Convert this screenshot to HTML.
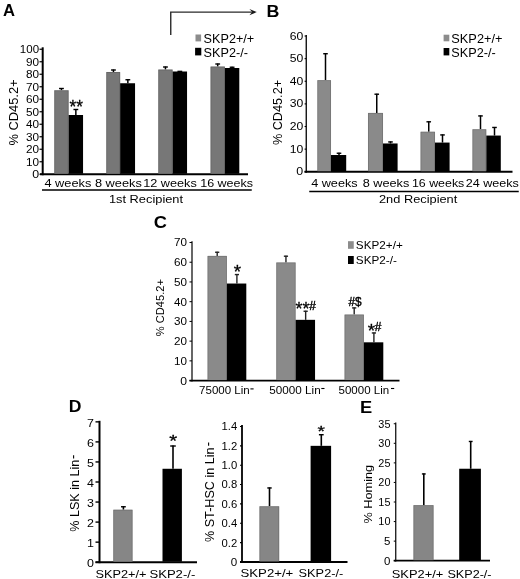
<!DOCTYPE html>
<html><head><meta charset="utf-8"><title>Figure</title>
<style>
html,body{margin:0;padding:0;background:#fff;}
body{width:520px;height:579px;overflow:hidden;font-family:"Liberation Sans",sans-serif;}
svg{display:block;will-change:transform;}
svg text{font-family:"Liberation Sans",sans-serif;fill:#000;}
</style></head><body>
<svg width="520" height="579" viewBox="0 0 520 579">
<rect width="520" height="579" fill="#fff"/>
<text x="3.0" y="15.9" font-size="16" font-weight="bold" textLength="12.0" lengthAdjust="spacingAndGlyphs">A</text>
<line x1="42.7" y1="47.3" x2="42.7" y2="175.25" stroke="#000" stroke-width="2.0"/>
<line x1="40" y1="174.25" x2="248" y2="174.25" stroke="#000" stroke-width="2.0"/>
<line x1="39.5" y1="174.25" x2="42.7" y2="174.25" stroke="#000" stroke-width="1.2"/>
<text x="32.15" y="178.35" font-size="11.3" textLength="6.9" lengthAdjust="spacingAndGlyphs">0</text>
<line x1="39.5" y1="161.75" x2="42.7" y2="161.75" stroke="#000" stroke-width="1.2"/>
<text x="25.95" y="165.85" font-size="11.3" textLength="13.1" lengthAdjust="spacingAndGlyphs">10</text>
<line x1="39.5" y1="149.25" x2="42.7" y2="149.25" stroke="#000" stroke-width="1.2"/>
<text x="25.95" y="153.35" font-size="11.3" textLength="13.1" lengthAdjust="spacingAndGlyphs">20</text>
<line x1="39.5" y1="136.75" x2="42.7" y2="136.75" stroke="#000" stroke-width="1.2"/>
<text x="25.95" y="140.85" font-size="11.3" textLength="13.1" lengthAdjust="spacingAndGlyphs">30</text>
<line x1="39.5" y1="124.25" x2="42.7" y2="124.25" stroke="#000" stroke-width="1.2"/>
<text x="25.95" y="128.35" font-size="11.3" textLength="13.1" lengthAdjust="spacingAndGlyphs">40</text>
<line x1="39.5" y1="111.75" x2="42.7" y2="111.75" stroke="#000" stroke-width="1.2"/>
<text x="25.95" y="115.85" font-size="11.3" textLength="13.1" lengthAdjust="spacingAndGlyphs">50</text>
<line x1="39.5" y1="99.25" x2="42.7" y2="99.25" stroke="#000" stroke-width="1.2"/>
<text x="25.95" y="103.35" font-size="11.3" textLength="13.1" lengthAdjust="spacingAndGlyphs">60</text>
<line x1="39.5" y1="86.75" x2="42.7" y2="86.75" stroke="#000" stroke-width="1.2"/>
<text x="25.95" y="90.85" font-size="11.3" textLength="13.1" lengthAdjust="spacingAndGlyphs">70</text>
<line x1="39.5" y1="74.25" x2="42.7" y2="74.25" stroke="#000" stroke-width="1.2"/>
<text x="25.95" y="78.35" font-size="11.3" textLength="13.1" lengthAdjust="spacingAndGlyphs">80</text>
<line x1="39.5" y1="61.75" x2="42.7" y2="61.75" stroke="#000" stroke-width="1.2"/>
<text x="25.95" y="65.85" font-size="11.3" textLength="13.1" lengthAdjust="spacingAndGlyphs">90</text>
<line x1="39.5" y1="49.25" x2="42.7" y2="49.25" stroke="#000" stroke-width="1.2"/>
<text x="19.85" y="53.35" font-size="11.3" textLength="19.2" lengthAdjust="spacingAndGlyphs">100</text>
<text x="18.5" y="145.6" font-size="12" textLength="66.20" lengthAdjust="spacingAndGlyphs" transform="rotate(-90 18.5 145.6)">% CD45.2+</text>
<line x1="61.45" y1="90.25" x2="61.45" y2="88.0" stroke="#000" stroke-width="1.5"/>
<line x1="59.050000000000004" y1="88.5" x2="63.85" y2="88.5" stroke="#000" stroke-width="1.4"/>
<line x1="75.85" y1="115.0" x2="75.85" y2="109.0" stroke="#000" stroke-width="1.5"/>
<line x1="73.44999999999999" y1="109.5" x2="78.25" y2="109.5" stroke="#000" stroke-width="1.4"/>
<rect x="54.25" y="90.25" width="14.40" height="83.50" fill="#777777"/>
<path d="M54.65 173.75 V90.65 H68.25 V173.75" fill="none" stroke="#000" stroke-opacity="0.18" stroke-width="0.8"/>
<rect x="68.65" y="115.00" width="14.40" height="58.75" fill="#000000"/>
<line x1="113.45" y1="72.0" x2="113.45" y2="69.5" stroke="#000" stroke-width="1.5"/>
<line x1="111.05" y1="70.0" x2="115.85000000000001" y2="70.0" stroke="#000" stroke-width="1.4"/>
<line x1="127.85" y1="83.25" x2="127.85" y2="79.25" stroke="#000" stroke-width="1.5"/>
<line x1="125.44999999999999" y1="79.75" x2="130.25" y2="79.75" stroke="#000" stroke-width="1.4"/>
<rect x="106.25" y="72.00" width="13.90" height="101.75" fill="#777777"/>
<path d="M106.65 173.75 V72.40 H119.75 V173.75" fill="none" stroke="#000" stroke-opacity="0.18" stroke-width="0.8"/>
<rect x="120.15" y="83.25" width="14.90" height="90.50" fill="#000000"/>
<line x1="165.45" y1="69.5" x2="165.45" y2="66.5" stroke="#000" stroke-width="1.5"/>
<line x1="163.04999999999998" y1="67.0" x2="167.85" y2="67.0" stroke="#000" stroke-width="1.4"/>
<line x1="179.85" y1="71.5" x2="179.85" y2="70.875" stroke="#000" stroke-width="1.5"/>
<line x1="177.45" y1="71.375" x2="182.25" y2="71.375" stroke="#000" stroke-width="1.4"/>
<rect x="158.25" y="69.50" width="14.40" height="104.25" fill="#777777"/>
<path d="M158.65 173.75 V69.90 H172.25 V173.75" fill="none" stroke="#000" stroke-opacity="0.18" stroke-width="0.8"/>
<rect x="172.65" y="71.50" width="14.40" height="102.25" fill="#000000"/>
<line x1="217.7" y1="66.5" x2="217.7" y2="63.5" stroke="#000" stroke-width="1.5"/>
<line x1="215.29999999999998" y1="64.0" x2="220.1" y2="64.0" stroke="#000" stroke-width="1.4"/>
<line x1="232.1" y1="68.0" x2="232.1" y2="66.75" stroke="#000" stroke-width="1.5"/>
<line x1="229.7" y1="67.25" x2="234.5" y2="67.25" stroke="#000" stroke-width="1.4"/>
<rect x="210.5" y="66.50" width="14.40" height="107.25" fill="#777777"/>
<path d="M210.90 173.75 V66.90 H224.50 V173.75" fill="none" stroke="#000" stroke-opacity="0.18" stroke-width="0.8"/>
<rect x="224.9" y="68.00" width="14.40" height="105.75" fill="#000000"/>
<text x="69.46" y="112.9" font-size="18.5" stroke="#000" stroke-width="0.3" textLength="13.48" lengthAdjust="spacingAndGlyphs">**</text>
<text x="44.44" y="186.9" font-size="11.3" textLength="46.88" lengthAdjust="spacingAndGlyphs">4 weeks</text>
<text x="94.94" y="186.9" font-size="11.3" textLength="46.88" lengthAdjust="spacingAndGlyphs">8 weeks</text>
<text x="143.19" y="186.9" font-size="11.3" textLength="53.63" lengthAdjust="spacingAndGlyphs">12 weeks</text>
<text x="200.19" y="186.9" font-size="11.3" textLength="52.88" lengthAdjust="spacingAndGlyphs">16 weeks</text>
<line x1="42" y1="190" x2="251.75" y2="190" stroke="#000" stroke-width="1.4"/>
<text x="108.94" y="202.8" font-size="11.3" textLength="74.13" lengthAdjust="spacingAndGlyphs">1st Recipient</text>
<rect x="195.5" y="34.50" width="5.60" height="6.90" fill="#8c8c8c"/>
<rect x="195.1" y="47.80" width="6.20" height="7.60" fill="#000000"/>
<text x="203.62" y="43.0" font-size="12.6" textLength="50.61" lengthAdjust="spacingAndGlyphs">SKP2+/+</text>
<text x="203.62" y="56.6" font-size="12.6" textLength="44.31" lengthAdjust="spacingAndGlyphs">SKP2-/-</text>
<path d="M170.75 35 V12.1 H254" fill="none" stroke="#2a2a2a" stroke-width="1.4"/>
<path d="M256.8 12.1 L249.4 9.0 L252.2 12.1 L249.4 15.2 Z" fill="#1a1a1a"/>
<text x="266.4" y="16.9" font-size="16" font-weight="bold" textLength="12.9" lengthAdjust="spacingAndGlyphs">B</text>
<line x1="306.25" y1="35" x2="306.25" y2="172.75" stroke="#000" stroke-width="1.3"/>
<line x1="304.5" y1="171.75" x2="512.5" y2="171.75" stroke="#000" stroke-width="2.0"/>
<line x1="304.6" y1="171.75" x2="306.25" y2="171.75" stroke="#000" stroke-width="1.1"/>
<text x="296.34" y="175.25" font-size="11.5" textLength="6.92" lengthAdjust="spacingAndGlyphs">0</text>
<line x1="304.6" y1="149.13" x2="306.25" y2="149.13" stroke="#000" stroke-width="1.1"/>
<text x="289.74" y="152.63" font-size="11.5" textLength="13.52" lengthAdjust="spacingAndGlyphs">10</text>
<line x1="304.6" y1="126.50999999999999" x2="306.25" y2="126.50999999999999" stroke="#000" stroke-width="1.1"/>
<text x="289.74" y="130.01" font-size="11.5" textLength="13.52" lengthAdjust="spacingAndGlyphs">20</text>
<line x1="304.6" y1="103.89" x2="306.25" y2="103.89" stroke="#000" stroke-width="1.1"/>
<text x="289.74" y="107.39" font-size="11.5" textLength="13.52" lengthAdjust="spacingAndGlyphs">30</text>
<line x1="304.6" y1="81.27" x2="306.25" y2="81.27" stroke="#000" stroke-width="1.1"/>
<text x="289.74" y="84.77" font-size="11.5" textLength="13.52" lengthAdjust="spacingAndGlyphs">40</text>
<line x1="304.6" y1="58.650000000000006" x2="306.25" y2="58.650000000000006" stroke="#000" stroke-width="1.1"/>
<text x="289.74" y="62.15" font-size="11.5" textLength="13.52" lengthAdjust="spacingAndGlyphs">50</text>
<line x1="304.6" y1="36.03" x2="306.25" y2="36.03" stroke="#000" stroke-width="1.1"/>
<text x="289.74" y="39.53" font-size="11.5" textLength="13.52" lengthAdjust="spacingAndGlyphs">60</text>
<text x="282.0" y="145.1" font-size="12" textLength="65.20" lengthAdjust="spacingAndGlyphs" transform="rotate(-90 282.0 145.1)">% CD45.2+</text>
<line x1="325.5" y1="80.139" x2="325.5" y2="53.221199999999996" stroke="#000" stroke-width="1.5"/>
<line x1="323.2" y1="53.721199999999996" x2="327.8" y2="53.721199999999996" stroke="#000" stroke-width="1.4"/>
<line x1="339" y1="155.0112" x2="339" y2="152.7492" stroke="#000" stroke-width="1.5"/>
<line x1="336.7" y1="153.2492" x2="341.3" y2="153.2492" stroke="#000" stroke-width="1.4"/>
<rect x="317.3" y="80.14" width="13.70" height="91.11" fill="#8a8a8a"/>
<path d="M317.70 171.25 V80.54 H330.60 V171.25" fill="none" stroke="#000" stroke-opacity="0.18" stroke-width="0.8"/>
<rect x="331.0" y="155.01" width="15.20" height="16.24" fill="#000000"/>
<line x1="376.75" y1="112.938" x2="376.75" y2="93.711" stroke="#000" stroke-width="1.5"/>
<line x1="374.45" y1="94.211" x2="379.05" y2="94.211" stroke="#000" stroke-width="1.4"/>
<line x1="390.5" y1="143.475" x2="390.5" y2="141.4392" stroke="#000" stroke-width="1.5"/>
<line x1="388.2" y1="141.9392" x2="392.8" y2="141.9392" stroke="#000" stroke-width="1.4"/>
<rect x="368.0" y="112.94" width="15.00" height="58.31" fill="#8a8a8a"/>
<path d="M368.40 171.25 V113.34 H382.60 V171.25" fill="none" stroke="#000" stroke-opacity="0.18" stroke-width="0.8"/>
<rect x="383.0" y="143.47" width="14.60" height="27.78" fill="#000000"/>
<line x1="428.75" y1="131.7126" x2="428.75" y2="121.3074" stroke="#000" stroke-width="1.5"/>
<line x1="426.45" y1="121.8074" x2="431.05" y2="121.8074" stroke="#000" stroke-width="1.4"/>
<line x1="442.5" y1="142.5702" x2="442.5" y2="134.427" stroke="#000" stroke-width="1.5"/>
<line x1="440.2" y1="134.927" x2="444.8" y2="134.927" stroke="#000" stroke-width="1.4"/>
<rect x="420.5" y="131.71" width="14.50" height="39.54" fill="#8a8a8a"/>
<path d="M420.90 171.25 V132.11 H434.60 V171.25" fill="none" stroke="#000" stroke-opacity="0.18" stroke-width="0.8"/>
<rect x="435.0" y="142.57" width="14.60" height="28.68" fill="#000000"/>
<line x1="480.5" y1="129.2244" x2="480.5" y2="115.4262" stroke="#000" stroke-width="1.5"/>
<line x1="478.2" y1="115.9262" x2="482.8" y2="115.9262" stroke="#000" stroke-width="1.4"/>
<line x1="494.5" y1="135.558" x2="494.5" y2="126.9624" stroke="#000" stroke-width="1.5"/>
<line x1="492.2" y1="127.4624" x2="496.8" y2="127.4624" stroke="#000" stroke-width="1.4"/>
<rect x="472.4" y="129.22" width="13.90" height="42.03" fill="#8a8a8a"/>
<path d="M472.80 171.25 V129.62 H485.90 V171.25" fill="none" stroke="#000" stroke-opacity="0.18" stroke-width="0.8"/>
<rect x="486.3" y="135.56" width="14.50" height="35.69" fill="#000000"/>
<text x="311.19" y="186.6" font-size="11.3" textLength="46.38" lengthAdjust="spacingAndGlyphs">4 weeks</text>
<text x="362.69" y="186.6" font-size="11.3" textLength="46.63" lengthAdjust="spacingAndGlyphs">8 weeks</text>
<text x="411.94" y="186.6" font-size="11.3" textLength="52.38" lengthAdjust="spacingAndGlyphs">16 weeks</text>
<text x="465.69" y="186.6" font-size="11.3" textLength="53.13" lengthAdjust="spacingAndGlyphs">24 weeks</text>
<line x1="309.25" y1="191.5" x2="518.75" y2="191.5" stroke="#000" stroke-width="1.4"/>
<text x="378.94" y="203.2" font-size="11.3" textLength="78.38" lengthAdjust="spacingAndGlyphs">2nd Recipient</text>
<rect x="443.6" y="34.70" width="5.70" height="6.60" fill="#8c8c8c"/>
<rect x="443.6" y="48.00" width="5.70" height="7.40" fill="#000000"/>
<text x="451.37" y="42.9" font-size="12.6" textLength="51.06" lengthAdjust="spacingAndGlyphs">SKP2+/+</text>
<text x="451.37" y="56.7" font-size="12.6" textLength="44.26" lengthAdjust="spacingAndGlyphs">SKP2-/-</text>
<text x="153.87" y="228.2" font-size="16.6" font-weight="bold" textLength="13.16" lengthAdjust="spacingAndGlyphs">C</text>
<line x1="192" y1="241.25" x2="192" y2="381.5" stroke="#000" stroke-width="1.2"/>
<line x1="189.5" y1="380.6" x2="399.5" y2="380.6" stroke="#000" stroke-width="1.8"/>
<line x1="189.5" y1="380.6" x2="192" y2="380.6" stroke="#000" stroke-width="1.0"/>
<text x="180.26" y="384.5" font-size="11.0" textLength="6.78" lengthAdjust="spacingAndGlyphs">0</text>
<line x1="189.5" y1="360.87" x2="192" y2="360.87" stroke="#000" stroke-width="1.0"/>
<text x="174.06" y="364.77" font-size="11.0" textLength="12.98" lengthAdjust="spacingAndGlyphs">10</text>
<line x1="189.5" y1="341.14000000000004" x2="192" y2="341.14000000000004" stroke="#000" stroke-width="1.0"/>
<text x="174.06" y="345.04" font-size="11.0" textLength="12.98" lengthAdjust="spacingAndGlyphs">20</text>
<line x1="189.5" y1="321.41" x2="192" y2="321.41" stroke="#000" stroke-width="1.0"/>
<text x="174.06" y="325.31" font-size="11.0" textLength="12.98" lengthAdjust="spacingAndGlyphs">30</text>
<line x1="189.5" y1="301.68" x2="192" y2="301.68" stroke="#000" stroke-width="1.0"/>
<text x="174.06" y="305.58" font-size="11.0" textLength="12.98" lengthAdjust="spacingAndGlyphs">40</text>
<line x1="189.5" y1="281.95000000000005" x2="192" y2="281.95000000000005" stroke="#000" stroke-width="1.0"/>
<text x="174.06" y="285.85" font-size="11.0" textLength="12.98" lengthAdjust="spacingAndGlyphs">50</text>
<line x1="189.5" y1="262.22" x2="192" y2="262.22" stroke="#000" stroke-width="1.0"/>
<text x="174.06" y="266.12" font-size="11.0" textLength="12.98" lengthAdjust="spacingAndGlyphs">60</text>
<line x1="189.5" y1="242.49" x2="192" y2="242.49" stroke="#000" stroke-width="1.0"/>
<text x="174.06" y="246.39" font-size="11.0" textLength="12.98" lengthAdjust="spacingAndGlyphs">70</text>
<text x="163.9" y="336.13" font-size="10.6" textLength="57.06" lengthAdjust="spacingAndGlyphs" transform="rotate(-90 163.9 336.13)">% CD45.2+</text>
<line x1="217.2" y1="255.90640000000002" x2="217.2" y2="251.7631" stroke="#222" stroke-width="1.4"/>
<line x1="215.1" y1="252.2631" x2="219.29999999999998" y2="252.2631" stroke="#222" stroke-width="1.4"/>
<line x1="236.9" y1="283.52840000000003" x2="236.9" y2="274.058" stroke="#222" stroke-width="1.4"/>
<line x1="234.8" y1="274.558" x2="239.0" y2="274.558" stroke="#222" stroke-width="1.4"/>
<rect x="207.5" y="255.91" width="19.40" height="124.19" fill="#8a8a8a"/>
<path d="M207.90 380.10 V256.31 H226.50 V380.10" fill="none" stroke="#000" stroke-opacity="0.18" stroke-width="0.8"/>
<rect x="226.9" y="283.53" width="19.40" height="96.57" fill="#000000"/>
<line x1="285.95" y1="262.4173" x2="285.95" y2="255.70910000000003" stroke="#222" stroke-width="1.4"/>
<line x1="283.84999999999997" y1="256.20910000000003" x2="288.05" y2="256.20910000000003" stroke="#222" stroke-width="1.4"/>
<line x1="305.65000000000003" y1="319.83160000000004" x2="305.65000000000003" y2="310.7558" stroke="#222" stroke-width="1.4"/>
<line x1="303.55" y1="311.2558" x2="307.75000000000006" y2="311.2558" stroke="#222" stroke-width="1.4"/>
<rect x="276.25" y="262.42" width="19.40" height="117.68" fill="#8a8a8a"/>
<path d="M276.65 380.10 V262.82 H295.25 V380.10" fill="none" stroke="#000" stroke-opacity="0.18" stroke-width="0.8"/>
<rect x="295.65" y="319.83" width="19.40" height="60.27" fill="#000000"/>
<line x1="354.2" y1="314.5045" x2="354.2" y2="307.4017" stroke="#222" stroke-width="1.4"/>
<line x1="352.09999999999997" y1="307.9017" x2="356.3" y2="307.9017" stroke="#222" stroke-width="1.4"/>
<line x1="373.90000000000003" y1="342.3238" x2="373.90000000000003" y2="332.4588" stroke="#222" stroke-width="1.4"/>
<line x1="371.8" y1="332.9588" x2="376.00000000000006" y2="332.9588" stroke="#222" stroke-width="1.4"/>
<rect x="344.5" y="314.50" width="19.40" height="65.60" fill="#8a8a8a"/>
<path d="M344.90 380.10 V314.90 H363.50 V380.10" fill="none" stroke="#000" stroke-opacity="0.18" stroke-width="0.8"/>
<rect x="363.9" y="342.32" width="19.40" height="37.78" fill="#000000"/>
<text x="233.7" y="278.0" font-size="17.5" stroke="#000" stroke-width="0.3" textLength="7.3" lengthAdjust="spacingAndGlyphs">*</text>
<text x="295.44" y="315.4" font-size="19" stroke="#000" stroke-width="0.3" textLength="13.92" lengthAdjust="spacingAndGlyphs">**</text>
<text x="309.2" y="310.2" font-size="12" stroke="#000" stroke-width="0.4" textLength="6.6" lengthAdjust="spacingAndGlyphs">#</text>
<text x="348.56" y="305.8" font-size="12.2" stroke="#000" stroke-width="0.4" textLength="13.09" lengthAdjust="spacingAndGlyphs">#$</text>
<text x="367.64" y="336.6" font-size="19" stroke="#000" stroke-width="0.3" textLength="7.32" lengthAdjust="spacingAndGlyphs">*</text>
<text x="374.8" y="331.0" font-size="12" stroke="#000" stroke-width="0.4" textLength="6.6" lengthAdjust="spacingAndGlyphs">#</text>
<text x="199.05" y="393.9" font-size="11" textLength="50.7" lengthAdjust="spacingAndGlyphs">75000 Lin</text>
<line x1="250.4" y1="388.9" x2="253.6" y2="388.9" stroke="#000" stroke-width="1.1"/>
<text x="269.25" y="393.5" font-size="11" textLength="51.4" lengthAdjust="spacingAndGlyphs">50000 Lin</text>
<line x1="321.3" y1="388.5" x2="324.5" y2="388.5" stroke="#000" stroke-width="1.1"/>
<text x="338.55" y="393.5" font-size="11" textLength="50.6" lengthAdjust="spacingAndGlyphs">50000 Lin</text>
<line x1="391.0" y1="388.5" x2="394.2" y2="388.5" stroke="#000" stroke-width="1.1"/>
<rect x="348" y="241.20" width="5.75" height="7.60" fill="#8c8c8c"/>
<rect x="348" y="256.00" width="5.75" height="8.00" fill="#000000"/>
<text x="355.85" y="249.0" font-size="11" textLength="46.9" lengthAdjust="spacingAndGlyphs">SKP2+/+</text>
<text x="355.85" y="264.2" font-size="11" textLength="41.1" lengthAdjust="spacingAndGlyphs">SKP2-/-</text>
<text x="68.85" y="411.8" font-size="15.8" font-weight="bold" textLength="12.7" lengthAdjust="spacingAndGlyphs">D</text>
<line x1="99.5" y1="420.8" x2="99.5" y2="563.2" stroke="#000" stroke-width="2.0"/>
<line x1="95.5" y1="562.2" x2="197" y2="562.2" stroke="#000" stroke-width="2.0"/>
<line x1="95.5" y1="562.2" x2="99.5" y2="562.2" stroke="#000" stroke-width="1.4"/>
<text x="87.04" y="567.1" font-size="11.6" textLength="6.93" lengthAdjust="spacingAndGlyphs">0</text>
<line x1="95.5" y1="542.1500000000001" x2="99.5" y2="542.1500000000001" stroke="#000" stroke-width="1.4"/>
<text x="87.04" y="547.05" font-size="11.6" textLength="6.93" lengthAdjust="spacingAndGlyphs">1</text>
<line x1="95.5" y1="522.1" x2="99.5" y2="522.1" stroke="#000" stroke-width="1.4"/>
<text x="87.04" y="527.0" font-size="11.6" textLength="6.93" lengthAdjust="spacingAndGlyphs">2</text>
<line x1="95.5" y1="502.05000000000007" x2="99.5" y2="502.05000000000007" stroke="#000" stroke-width="1.4"/>
<text x="87.04" y="506.95" font-size="11.6" textLength="6.93" lengthAdjust="spacingAndGlyphs">3</text>
<line x1="95.5" y1="482.00000000000006" x2="99.5" y2="482.00000000000006" stroke="#000" stroke-width="1.4"/>
<text x="87.04" y="486.9" font-size="11.6" textLength="6.93" lengthAdjust="spacingAndGlyphs">4</text>
<line x1="95.5" y1="461.95000000000005" x2="99.5" y2="461.95000000000005" stroke="#000" stroke-width="1.4"/>
<text x="87.04" y="466.85" font-size="11.6" textLength="6.93" lengthAdjust="spacingAndGlyphs">5</text>
<line x1="95.5" y1="441.90000000000003" x2="99.5" y2="441.90000000000003" stroke="#000" stroke-width="1.4"/>
<text x="87.04" y="446.8" font-size="11.6" textLength="6.93" lengthAdjust="spacingAndGlyphs">6</text>
<line x1="95.5" y1="421.85" x2="99.5" y2="421.85" stroke="#000" stroke-width="1.4"/>
<text x="87.04" y="426.75" font-size="11.6" textLength="6.93" lengthAdjust="spacingAndGlyphs">7</text>
<text x="78.8" y="531.8" font-size="12" textLength="72.20" lengthAdjust="spacingAndGlyphs" transform="rotate(-90 78.8 531.8)">% LSK in Lin</text>
<line x1="73.6" y1="458.4" x2="73.6" y2="455.2" stroke="#000" stroke-width="1.1"/>
<line x1="123.4" y1="509.66900000000004" x2="123.4" y2="506.26050000000004" stroke="#000" stroke-width="1.6"/>
<line x1="121.0" y1="506.76050000000004" x2="125.80000000000001" y2="506.76050000000004" stroke="#000" stroke-width="1.4"/>
<rect x="113.25" y="509.67" width="19.35" height="52.03" fill="#868686"/>
<path d="M113.65 561.70 V510.07 H132.20 V561.70" fill="none" stroke="#000" stroke-opacity="0.18" stroke-width="0.8"/>
<line x1="173.0" y1="468.76700000000005" x2="173.0" y2="445.509" stroke="#000" stroke-width="1.6"/>
<line x1="170.2" y1="446.009" x2="175.8" y2="446.009" stroke="#000" stroke-width="1.4"/>
<rect x="162.5" y="468.77" width="19.40" height="92.93" fill="#000000"/>
<text x="169.36" y="447.2" font-size="16" stroke="#000" stroke-width="0.3" textLength="7.88" lengthAdjust="spacingAndGlyphs">*</text>
<text x="95.42" y="577.7" font-size="11.6" textLength="51.06" lengthAdjust="spacingAndGlyphs">SKP2+/+</text>
<text x="149.42" y="577.7" font-size="11.6" textLength="45.86" lengthAdjust="spacingAndGlyphs">SKP2-/-</text>
<line x1="242" y1="425" x2="242" y2="562.9" stroke="#000" stroke-width="1.8"/>
<line x1="240" y1="562" x2="347.5" y2="562" stroke="#000" stroke-width="1.8"/>
<line x1="240" y1="562.0" x2="242" y2="562.0" stroke="#000" stroke-width="1.1"/>
<text x="230.77" y="565.9" font-size="10.8" textLength="6.46" lengthAdjust="spacingAndGlyphs">0</text>
<line x1="240" y1="542.64" x2="242" y2="542.64" stroke="#000" stroke-width="1.1"/>
<text x="221.57" y="546.54" font-size="10.8" textLength="15.66" lengthAdjust="spacingAndGlyphs">0.2</text>
<line x1="240" y1="523.28" x2="242" y2="523.28" stroke="#000" stroke-width="1.1"/>
<text x="221.57" y="527.18" font-size="10.8" textLength="15.66" lengthAdjust="spacingAndGlyphs">0.4</text>
<line x1="240" y1="503.92" x2="242" y2="503.92" stroke="#000" stroke-width="1.1"/>
<text x="221.57" y="507.82" font-size="10.8" textLength="15.66" lengthAdjust="spacingAndGlyphs">0.6</text>
<line x1="240" y1="484.56" x2="242" y2="484.56" stroke="#000" stroke-width="1.1"/>
<text x="221.57" y="488.46" font-size="10.8" textLength="15.66" lengthAdjust="spacingAndGlyphs">0.8</text>
<line x1="240" y1="465.2" x2="242" y2="465.2" stroke="#000" stroke-width="1.1"/>
<text x="221.57" y="469.1" font-size="10.8" textLength="15.66" lengthAdjust="spacingAndGlyphs">1.0</text>
<line x1="240" y1="445.84" x2="242" y2="445.84" stroke="#000" stroke-width="1.1"/>
<text x="221.57" y="449.74" font-size="10.8" textLength="15.66" lengthAdjust="spacingAndGlyphs">1.2</text>
<line x1="240" y1="426.48" x2="242" y2="426.48" stroke="#000" stroke-width="1.1"/>
<text x="221.57" y="430.38" font-size="10.8" textLength="15.66" lengthAdjust="spacingAndGlyphs">1.4</text>
<text x="213.8" y="542.0" font-size="12" textLength="94.60" lengthAdjust="spacingAndGlyphs" transform="rotate(-90 213.8 542.0)">% ST-HSC in Lin</text>
<line x1="208.6" y1="445.8" x2="208.6" y2="442.6" stroke="#000" stroke-width="1.1"/>
<line x1="269.5" y1="506.2432" x2="269.5" y2="487.464" stroke="#000" stroke-width="1.6"/>
<line x1="267.3" y1="487.964" x2="271.7" y2="487.964" stroke="#000" stroke-width="1.4"/>
<rect x="259.4" y="506.24" width="19.80" height="55.26" fill="#868686"/>
<path d="M259.80 561.50 V506.64 H278.80 V561.50" fill="none" stroke="#000" stroke-opacity="0.18" stroke-width="0.8"/>
<line x1="321.3" y1="445.84000000000003" x2="321.3" y2="434.224" stroke="#000" stroke-width="1.6"/>
<line x1="318.90000000000003" y1="434.724" x2="323.7" y2="434.724" stroke="#000" stroke-width="1.4"/>
<rect x="310.6" y="445.84" width="20.50" height="115.66" fill="#000000"/>
<text x="317.58" y="435.6" font-size="15.5" stroke="#000" stroke-width="0.3" textLength="7.44" lengthAdjust="spacingAndGlyphs">*</text>
<text x="240.52" y="577.3" font-size="11.6" textLength="52.76" lengthAdjust="spacingAndGlyphs">SKP2+/+</text>
<text x="298.62" y="577.3" font-size="11.6" textLength="44.66" lengthAdjust="spacingAndGlyphs">SKP2-/-</text>
<text x="359.91" y="412.9" font-size="15.6" font-weight="bold" textLength="12.18" lengthAdjust="spacingAndGlyphs">E</text>
<line x1="395.75" y1="422.5" x2="395.75" y2="561.6" stroke="#000" stroke-width="1.2"/>
<line x1="393.75" y1="560.7" x2="490" y2="560.7" stroke="#000" stroke-width="1.8"/>
<line x1="393.75" y1="560.7" x2="395.75" y2="560.7" stroke="#000" stroke-width="1.0"/>
<text x="384.06" y="564.6" font-size="11.0" textLength="6.38" lengthAdjust="spacingAndGlyphs">0</text>
<line x1="393.75" y1="541.135" x2="395.75" y2="541.135" stroke="#000" stroke-width="1.0"/>
<text x="384.06" y="545.03" font-size="11.0" textLength="6.38" lengthAdjust="spacingAndGlyphs">5</text>
<line x1="393.75" y1="521.57" x2="395.75" y2="521.57" stroke="#000" stroke-width="1.0"/>
<text x="378.36" y="525.47" font-size="11.0" textLength="12.08" lengthAdjust="spacingAndGlyphs">10</text>
<line x1="393.75" y1="502.00500000000005" x2="395.75" y2="502.00500000000005" stroke="#000" stroke-width="1.0"/>
<text x="378.36" y="505.91" font-size="11.0" textLength="12.08" lengthAdjust="spacingAndGlyphs">15</text>
<line x1="393.75" y1="482.44000000000005" x2="395.75" y2="482.44000000000005" stroke="#000" stroke-width="1.0"/>
<text x="378.36" y="486.34" font-size="11.0" textLength="12.08" lengthAdjust="spacingAndGlyphs">20</text>
<line x1="393.75" y1="462.87500000000006" x2="395.75" y2="462.87500000000006" stroke="#000" stroke-width="1.0"/>
<text x="378.36" y="466.78" font-size="11.0" textLength="12.08" lengthAdjust="spacingAndGlyphs">25</text>
<line x1="393.75" y1="443.31000000000006" x2="395.75" y2="443.31000000000006" stroke="#000" stroke-width="1.0"/>
<text x="378.36" y="447.21" font-size="11.0" textLength="12.08" lengthAdjust="spacingAndGlyphs">30</text>
<line x1="393.75" y1="423.74500000000006" x2="395.75" y2="423.74500000000006" stroke="#000" stroke-width="1.0"/>
<text x="378.36" y="427.65" font-size="11.0" textLength="12.08" lengthAdjust="spacingAndGlyphs">35</text>
<text x="372.1" y="523.48" font-size="11.6" textLength="58.66" lengthAdjust="spacingAndGlyphs" transform="rotate(-90 372.1 523.48)">% Homing</text>
<line x1="423.8" y1="505.13540000000006" x2="423.8" y2="473.44010000000003" stroke="#000" stroke-width="1.6"/>
<line x1="421.90000000000003" y1="473.94010000000003" x2="425.7" y2="473.94010000000003" stroke="#000" stroke-width="1.4"/>
<rect x="413.4" y="505.14" width="20.20" height="55.06" fill="#868686"/>
<path d="M413.80 560.20 V505.54 H433.20 V560.20" fill="none" stroke="#000" stroke-opacity="0.18" stroke-width="0.8"/>
<line x1="470.7" y1="468.7445" x2="470.7" y2="440.96220000000005" stroke="#000" stroke-width="1.6"/>
<line x1="468.8" y1="441.46220000000005" x2="472.59999999999997" y2="441.46220000000005" stroke="#000" stroke-width="1.4"/>
<rect x="459.2" y="468.74" width="21.70" height="91.46" fill="#000000"/>
<text x="391.72" y="577.7" font-size="11.6" textLength="51.56" lengthAdjust="spacingAndGlyphs">SKP2+/+</text>
<text x="447.42" y="577.7" font-size="11.6" textLength="44.16" lengthAdjust="spacingAndGlyphs">SKP2-/-</text>
</svg>
</body></html>
